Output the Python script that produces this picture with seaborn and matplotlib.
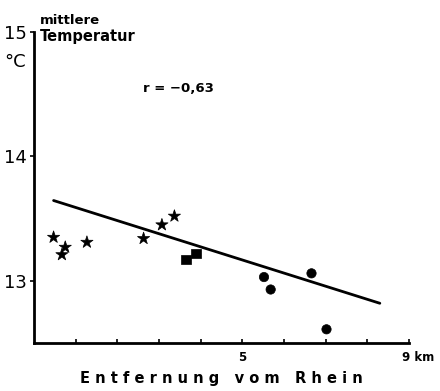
import numpy as np
import pandas as pd
import matplotlib
matplotlib.use("Agg")
import matplotlib.pyplot as plt
import matplotlib.transforms as mtransforms
import seaborn as sns

# --- data (distance from Rhine in km, mean temperature in °C) ---
star_x = [0.47, 0.75, 0.67, 1.27, 2.63, 3.07, 3.37]
star_y = [13.35, 13.27, 13.21, 13.31, 13.34, 13.45, 13.52]
square_x = [3.65, 3.89]
square_y = [13.17, 13.22]
circle_x = [5.52, 5.68, 6.66, 7.02]
circle_y = [13.03, 12.93, 13.06, 12.61]
fit_x = [0.47, 8.3]
fit_intercept = 13.695
fit_slope = -0.1055
x_ticks = [1, 2, 3, 4, 5, 6, 7, 8, 9]
x_tick_labels = ["", "", "", "", "5", "", "", "", "9 km"]
y_ticks = [13, 14, 15]
y_tick_labels = ["13", "14", "15"]

df = pd.DataFrame({
    "x": star_x + square_x + circle_x,
    "y": star_y + square_y + circle_y,
    "g": ["star"] * len(star_x) + ["square"] * len(square_x) + ["circle"] * len(circle_x),
})
fit_df = pd.DataFrame({"x": fit_x, "y": [fit_intercept + fit_slope * v for v in fit_x]})

sns.set_style("ticks", {"axes.edgecolor": "black", "text.color": "black",
                        "xtick.color": "black", "ytick.color": "black"})
plt.rcParams["font.family"] = ["DejaVu Sans"]

W, H = 440, 391
fig = plt.figure(figsize=(W / 100, H / 100), dpi=100)
ax = fig.add_axes([34 / W, 1 - 343 / H, (409 - 34) / W, (343 - 32) / H])

sns.lineplot(data=fit_df, x="x", y="y", ax=ax, color="black", linewidth=2.0)
sns.scatterplot(data=df, x="x", y="y", style="g", size="g", ax=ax, color="black",
                markers={"star": "*", "square": "s", "circle": "o"},
                sizes={"star": 85, "square": 45, "circle": 45},
                edgecolor="black", linewidth=0.5, legend=False)

ax.set_xlim(0, 9)
ax.set_ylim(12.5, 15)
ax.set_xticks(x_ticks)
ax.set_xticklabels(x_tick_labels, fontsize=8.5, fontweight="bold")
ax.set_yticks(y_ticks)
ax.set_yticklabels(y_tick_labels, fontsize=13)
ax.tick_params(axis="x", direction="in", length=3, width=1.2, pad=6, colors="black")
ax.tick_params(axis="y", direction="out", length=3, width=1.2, pad=2, colors="black")
last = ax.get_xticklabels()[-1]
last.set_transform(last.get_transform() + mtransforms.ScaledTranslation(9 / 100, 0, fig.dpi_scale_trans))
ax.set_xlabel("E n t f e r n u n g   v o m   R h e i n", fontsize=10.5, fontweight="bold",
              labelpad=5, color="black")
ax.set_ylabel("")
for s in ["top", "right"]:
    ax.spines[s].set_visible(False)
for s in ["left", "bottom"]:
    ax.spines[s].set_linewidth(2.0)
    ax.spines[s].set_color("black")

fig.text(40 / W, 1 - 24 / H, "mittlere", fontsize=9.5, fontweight="bold", va="baseline", color="black")
fig.text(40 / W, 1 - 41 / H, "Temperatur", fontsize=10.5, fontweight="bold", va="baseline", color="black")
fig.text(4 / W, 1 - 67 / H, "°C", fontsize=13, va="baseline", color="black")
fig.text(143 / W, 1 - 92 / H, "r = −0,63", fontsize=9.5, fontweight="bold", va="baseline", color="black")

fig.savefig("out.png", dpi=100)
